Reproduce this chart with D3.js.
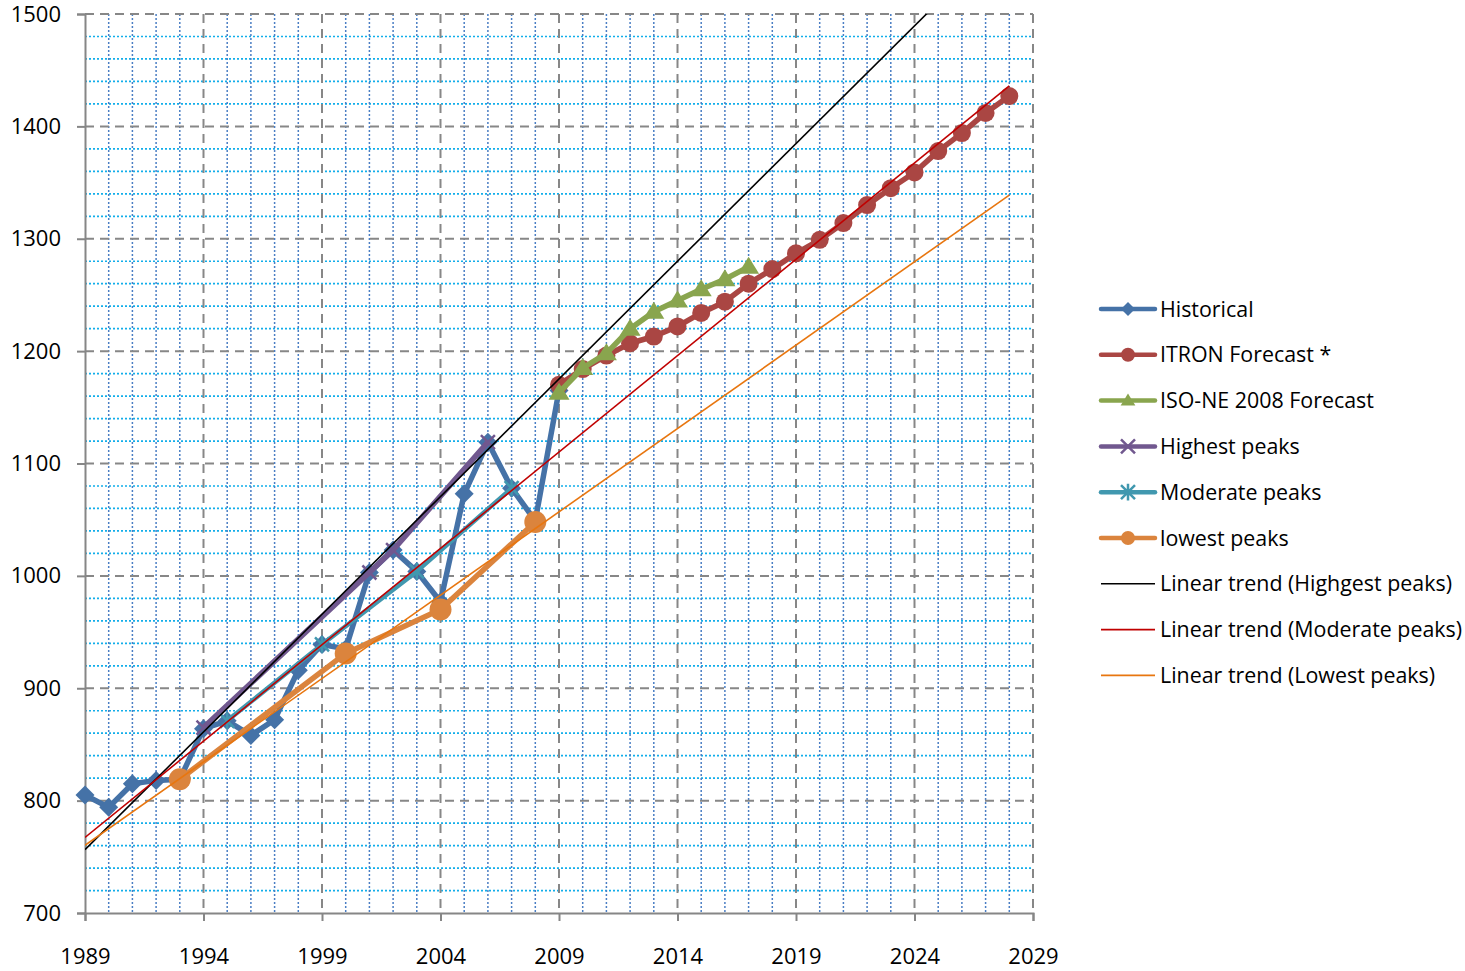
<!DOCTYPE html>
<html>
<head>
<meta charset="utf-8">
<script src="https://cdn.jsdelivr.net/npm/d3@7"></script>
<style>
  body { margin: 0; background: white; }
  text { font-family: "Open Sans", sans-serif; fill: #000; }
</style>
</head>
<body>
<div id="container"></div>
<script>
let w = 1465;
let h = 971;

// data
let histYears = d3.range(1989, 2010);
let histValues = [805, 794, 815, 818, 819, 864, 871, 858, 872, 916, 939, 935, 1003, 1023, 1004, 977, 1073, 1119, 1078, 1049, 1165];

let itronYears = d3.range(2009, 2029);
let itronValues = [1170, 1184, 1196, 1207, 1213, 1222, 1234, 1244, 1260, 1273, 1287, 1299, 1314, 1330, 1345, 1359, 1378, 1394, 1412, 1427];

let isoYears = d3.range(2009, 2018);
let isoValues = [1163, 1185, 1198, 1220, 1235, 1245, 1255, 1264, 1275];

let highYears = [1994, 2001, 2002, 2006];
let highValues = [865, 1003, 1023, 1119];

let modYears = [1995, 1999, 2003, 2007];
let modValues = [871, 939, 1004, 1078];

let lowYears = [1993, 2000, 2004, 2008];
let lowValues = [819, 931, 970, 1048];

let trendSpan = [1989, 2028];

let xTicks = d3.range(1989, 2030, 5);
let yTicks = d3.range(700, 1501, 100);

let viz = d3.select("#container")
  .append("svg")
    .attr("width", w)
    .attr("height", h)
    .style("background-color", "white")
;

let xScale = d3.scaleLinear().domain([1989, 2029]).range([85, 1033]);
let yScale = d3.scaleLinear().domain([700, 1500]).range([913, 14]);

let plotLeft = xScale.range()[0], plotRight = xScale.range()[1];
let plotTop = yScale.range()[1], plotBottom = yScale.range()[0];

// clip for the trend lines
viz.append("clipPath").attr("id", "plotclip")
  .append("rect")
    .attr("x", plotLeft).attr("y", plotTop)
    .attr("width", plotRight - plotLeft).attr("height", plotBottom - plotTop);

// GRID
let grid = viz.append("g").attr("class", "grid");

// minor horizontal, every 20
grid.selectAll(".hminor").data(d3.range(720, 1500, 20).filter(d => d % 100 != 0)).enter()
  .append("line")
    .attr("x1", plotLeft).attr("x2", plotRight)
    .attr("y1", d => yScale(d)).attr("y2", d => yScale(d))
    .attr("stroke", "#12AEEA")
    .attr("stroke-width", 1.7)
    .attr("stroke-dasharray", "2,2")
;
// minor vertical, every year
grid.selectAll(".vminor").data(d3.range(1990, 2029).filter(d => (d - 1989) % 5 != 0)).enter()
  .append("line")
    .attr("y1", plotTop).attr("y2", plotBottom)
    .attr("x1", d => xScale(d)).attr("x2", d => xScale(d))
    .attr("stroke", "#4A7EC4")
    .attr("stroke-width", 1.5)
    .attr("stroke-dasharray", "2,2")
;
// major dashed gray
grid.selectAll(".hmajor").data(yTicks.slice(1)).enter()
  .append("line")
    .attr("x1", plotLeft).attr("x2", plotRight)
    .attr("y1", d => yScale(d)).attr("y2", d => yScale(d))
    .attr("stroke", "#878787")
    .attr("stroke-width", 2)
    .attr("stroke-dasharray", "9,6")
;
grid.selectAll(".vmajor").data(xTicks.slice(1)).enter()
  .append("line")
    .attr("y1", plotTop).attr("y2", plotBottom)
    .attr("x1", d => xScale(d)).attr("x2", d => xScale(d))
    .attr("stroke", "#878787")
    .attr("stroke-width", 2)
    .attr("stroke-dasharray", "9,6")
;

// AXES
let yAxis = d3.axisLeft(yScale).tickValues(yTicks).tickSize(8).tickPadding(16).tickFormat(d3.format("d"));
let yAxisGroup = viz.append("g").attr("class", "yaxis")
  .attr("transform", "translate(" + plotLeft + ",0)")
  .call(yAxis);

let xAxis = d3.axisBottom(xScale).tickValues(xTicks).tickSize(8).tickPadding(27).tickFormat(d3.format("d"));
let xAxisGroup = viz.append("g").attr("class", "xaxis")
  .attr("transform", "translate(0," + plotBottom + ")")
  .call(xAxis);

[yAxisGroup, xAxisGroup].forEach(function(g){
  g.select(".domain").attr("stroke", "#868686").attr("stroke-width", 2);
  g.selectAll(".tick line").attr("stroke", "#868686").attr("stroke-width", 2);
  g.selectAll(".tick text").style("font-size", "22px").attr("fill", "#000");
});

// MARKERS
function diamond(s){ return "M0," + (-s) + "L" + s + ",0L0," + s + "L" + (-s) + ",0Z"; }
function triangle(s){ return "M0," + (-s) + "L" + (s * 1.05) + "," + (s * 0.7) + "L" + (-s * 1.05) + "," + (s * 0.7) + "Z"; }
function cross(s){ return "M" + (-s) + "," + (-s) + "L" + s + "," + s + "M" + (-s) + "," + s + "L" + s + "," + (-s); }
function star(s){ return cross(s) + "M0," + (-s * 1.2) + "L0," + (s * 1.2); }

let series = [
  {name: "Historical", years: histYears, values: histValues, color: "#4572A7", width: 5.5, marker: "diamond", size: 9.5},
  {name: "ITRON Forecast *", years: itronYears, values: itronValues, color: "#AA4643", width: 5.5, marker: "circle", size: 9},
  {name: "ISO-NE 2008 Forecast", years: isoYears, values: isoValues, color: "#89A54E", width: 5.5, marker: "triangle", size: 10},
  {name: "Highest peaks", years: highYears, values: highValues, color: "#71588F", width: 5.5, marker: "cross", size: 7},
  {name: "Moderate peaks", years: modYears, values: modValues, color: "#4198AF", width: 4.5, marker: "star", size: 7},
  {name: "lowest peaks", years: lowYears, values: lowValues, color: "#DB843D", width: 5.5, marker: "circle", size: 11}
];

function drawMarker(g, s, size){
  if (s.marker === "circle") {
    g.append("circle").attr("r", size).attr("fill", s.color);
  } else if (s.marker === "diamond") {
    g.append("path").attr("d", diamond(size)).attr("fill", s.color);
  } else if (s.marker === "triangle") {
    g.append("path").attr("d", triangle(size)).attr("fill", s.color);
  } else if (s.marker === "cross") {
    g.append("path").attr("d", cross(size)).attr("stroke", s.color).attr("stroke-width", 2.5).attr("fill", "none");
  } else {
    g.append("path").attr("d", star(size)).attr("stroke", s.color).attr("stroke-width", 2.5).attr("fill", "none");
  }
}

let line = d3.line().x(d => xScale(d[0])).y(d => yScale(d[1]));

let vizGroup = viz.append("g").attr("class", "vizGroup");

series.forEach(function(s){
  let pts = s.years.map((y, i) => [y, s.values[i]]);
  let g = vizGroup.append("g").attr("class", "series");
  g.append("path")
    .datum(pts)
    .attr("d", line)
    .attr("fill", "none")
    .attr("stroke", s.color)
    .attr("stroke-width", s.width)
    .attr("stroke-linejoin", "round")
  ;
  g.selectAll(".pt").data(pts).enter()
    .append("g")
      .attr("class", "pt")
      .attr("transform", d => "translate(" + xScale(d[0]) + "," + yScale(d[1]) + ")")
      .each(function(){ drawMarker(d3.select(this), s, s.size); })
  ;
});

// linear trends (least squares, like the spreadsheet trendline)
function fitLine(xs, ys){
  let mx = d3.mean(xs), my = d3.mean(ys);
  let sxy = d3.sum(xs, (x, i) => (x - mx) * (ys[i] - my));
  let sxx = d3.sum(xs, x => (x - mx) * (x - mx));
  let slope = sxy / sxx;
  return trendSpan.map(x => [x, my + slope * (x - mx)]);
}

let trends = [
  {name: "Linear trend (Highgest peaks)", pts: fitLine(highYears, highValues), color: "#000000"},
  {name: "Linear trend (Moderate peaks)", pts: fitLine(modYears, modValues), color: "#C00000"},
  {name: "Linear trend (Lowest peaks)", pts: fitLine(lowYears, lowValues), color: "#E8760F"}
];

let trendGroup = viz.append("g").attr("clip-path", "url(#plotclip)");
trends.forEach(function(t){
  trendGroup.append("path")
    .datum(t.pts)
    .attr("d", line)
    .attr("fill", "none")
    .attr("stroke", t.color)
    .attr("stroke-width", 1.6)
  ;
});

// LEGEND
let legend = viz.append("g").attr("class", "legend").attr("transform", "translate(1101,309)");
let rowH = 45.8;

series.forEach(function(s, i){
  let row = legend.append("g").attr("transform", "translate(0," + (i * rowH) + ")");
  row.append("line").attr("x1", 0).attr("x2", 54)
    .attr("stroke", s.color).attr("stroke-width", 4.5).attr("stroke-linecap", "round");
  let m = row.append("g").attr("transform", "translate(27,0)");
  drawMarker(m, s, 7);
  row.append("text").attr("x", 59).attr("dy", "0.35em").style("font-size", "21.4px").text(s.name);
});

trends.forEach(function(t, i){
  let row = legend.append("g").attr("transform", "translate(0," + ((i + series.length) * rowH) + ")");
  row.append("line").attr("x1", 0).attr("x2", 54)
    .attr("stroke", t.color).attr("stroke-width", 1.6);
  row.append("text").attr("x", 59).attr("dy", "0.35em").style("font-size", "21.4px").text(t.name);
});
</script>
</body>
</html>
